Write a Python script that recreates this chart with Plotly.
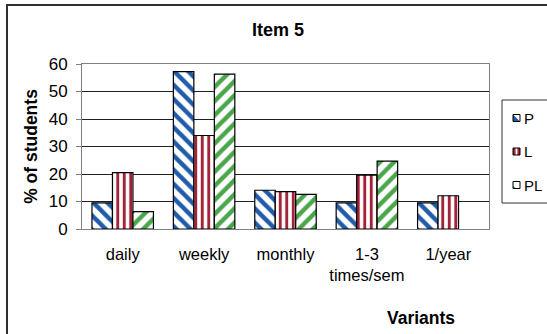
import plotly.graph_objects as go

# Survey responses for "Item 5": share of students per frequency variant
categories = ["daily", "weekly", "monthly", "1-3<br>times/sem", "1/year"]
series_names = ["P", "L", "PL"]
values_p = [9.5, 57.2, 14.1, 9.5, 9.5]
values_l = [20.5, 34.0, 13.6, 19.6, 12.1]
values_pl = [6.3, 56.3, 12.6, 24.7, None]
y_ticks = [0, 10, 20, 30, 40, 50, 60]

series_values = [values_p, values_l, values_pl]
stripe_colors = ["#1f5cab", "#a3233a", "#4aa64a"]
stripe_shapes = ["\\", "|", "/"]
stripe_sizes = [10, 6.5, 10]

# plot area in pixels
L, R, T, B = 82, 489, 64, 229
W, H = 547, 334
PW, PH = R - L, B - T


def px_x(x):
    return (x - L) / PW


def px_y(y):
    return (B - y) / PH


fig = go.Figure()
for name, vals, col, shp, sz in zip(series_names, series_values, stripe_colors,
                                    stripe_shapes, stripe_sizes):
    fig.add_trace(go.Bar(
        name=name,
        x=categories,
        y=vals,
        showlegend=False,
        marker=dict(
            color="white",
            line=dict(color="black", width=1.2),
            pattern=dict(shape=shp, fgcolor=col, bgcolor="white",
                         fillmode="replace", size=sz, solidity=0.45),
        ),
    ))

font_family = "Liberation Sans, Arial, sans-serif"

shapes = [
    # outer chart frame (runs off the right and bottom edges)
    dict(type="rect", xref="paper", yref="paper",
         x0=px_x(7), x1=px_x(560), y0=px_y(345), y1=px_y(5),
         line=dict(color="#303030", width=2), fillcolor="rgba(0,0,0,0)",
         layer="below"),
    # legend frame
    dict(type="rect", xref="paper", yref="paper",
         x0=px_x(502), x1=px_x(560), y0=px_y(203), y1=px_y(100),
         line=dict(color="#303030", width=1), fillcolor="rgba(0,0,0,0)"),
]
annotations = [
    dict(text="<b>Variants</b>", xref="paper", yref="paper",
         x=px_x(421), y=px_y(318), xanchor="center", yanchor="middle",
         showarrow=False, font=dict(size=17.5, family=font_family, color="black")),
]

# legend entries: small swatch + series name
legend_rows = [118, 151.5, 185]
sx0, sx1 = 513, 520
for name, col, cy in zip(series_names, stripe_colors, legend_rows):
    y0, y1 = cy - 3.5, cy + 3.5
    if name == "P":
        fill = [
            dict(type="path", xref="paper", yref="paper",
                 path=f"M {px_x(sx0)},{px_y(y0)} L {px_x(sx0)},{px_y(y1)} "
                      f"L {px_x(sx1)},{px_y(y1)} Z",
                 line=dict(width=0), fillcolor=col),
        ]
    elif name == "L":
        fill = [
            dict(type="rect", xref="paper", yref="paper",
                 x0=px_x(sx0), x1=px_x(sx1), y0=px_y(y1), y1=px_y(y0),
                 line=dict(width=0), fillcolor=col),
            dict(type="rect", xref="paper", yref="paper",
                 x0=px_x(sx0 + 2.6), x1=px_x(sx1 - 2.6), y0=px_y(y1), y1=px_y(y0),
                 line=dict(width=0), fillcolor="white"),
        ]
    else:
        fill = [
            dict(type="path", xref="paper", yref="paper",
                 path=f"M {px_x(sx0)},{px_y(y1 - 3)} L {px_x(sx0)},{px_y(y1)} "
                      f"L {px_x(sx0 + 3)},{px_y(y1)} Z",
                 line=dict(width=0), fillcolor=col),
        ]
    shapes.extend(fill)
    shapes.append(dict(type="rect", xref="paper", yref="paper",
                       x0=px_x(sx0), x1=px_x(sx1), y0=px_y(y1), y1=px_y(y0),
                       line=dict(color="black", width=1), fillcolor="rgba(0,0,0,0)"))
    annotations.append(dict(text=name, xref="paper", yref="paper",
                            x=px_x(522), y=px_y(cy), xanchor="left", yanchor="middle",
                            showarrow=False,
                            font=dict(size=15, family=font_family, color="black")))

fig.update_layout(
    width=W,
    height=H,
    margin=dict(l=L, r=W - R, t=T, b=H - B, autoexpand=False),
    paper_bgcolor="white",
    plot_bgcolor="white",
    barmode="group",
    bargap=0.245,
    bargroupgap=0,
    font=dict(family=font_family, size=16, color="black"),
    title=dict(text="<b>Item 5</b>", x=278 / W, xanchor="center",
               y=1 - 30 / H, yanchor="middle",
               font=dict(size=18, family=font_family, color="black")),
    showlegend=False,
    xaxis=dict(
        showgrid=False,
        showline=True, linecolor="#808080", linewidth=1, mirror=True,
        ticks="", tickfont=dict(size=16.5),
        ticklabelstandoff=10,
        fixedrange=True,
    ),
    yaxis=dict(
        range=[0, 60],
        tickvals=y_ticks,
        showgrid=True, gridcolor="#202020", gridwidth=1,
        showline=True, linecolor="#808080", linewidth=1, mirror=True,
        ticks="outside", ticklen=5, tickcolor="#808080",
        tickfont=dict(size=17),
        ticklabelstandoff=5,
        zeroline=False,
        title=dict(text="<b>% of students</b>", font=dict(size=17.5), standoff=6),
    ),
    shapes=shapes,
    annotations=annotations,
)

fig.write_html("out.html")
